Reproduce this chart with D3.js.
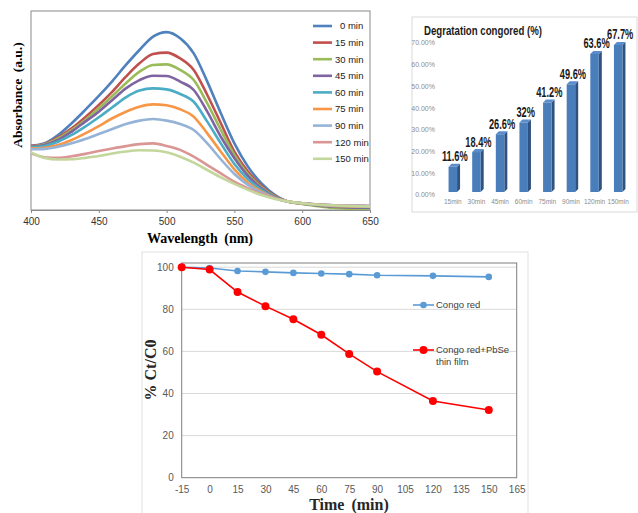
<!DOCTYPE html>
<html>
<head>
<meta charset="utf-8">
<script src="https://cdn.jsdelivr.net/npm/d3@7"></script>
<style>
  body { margin: 0; background: #fff; }
  svg { display: block; }
  .serif { font-family: "Liberation Serif", "Times New Roman", serif; font-weight: bold; }
  .sans { font-family: "Liberation Sans", Arial, sans-serif; }
  .narrow { font-family: "Liberation Sans Narrow", "Arial Narrow", "Liberation Sans", sans-serif; font-weight: bold; }
</style>
</head>
<body>
<div id="chart"></div>
<script>
// ---- data: UV-vis spectra (absorbance, a.u.) ----
const wavelengths = [400, 410, 420, 430, 440, 450, 460, 470, 480, 490, 500, 510, 520,
                     530, 540, 550, 560, 570, 580, 590, 600, 610, 620, 630, 640, 650];
const abs0   = [.322, .335, .377, .436, .503, .573, .648, .729, .804, .871, .894, .863, .787, .645, .486, .335, .218, .134, .075, .042, .034, .028, .025, .022, .021, .020];
const abs15  = [.322, .332, .365, .410, .466, .528, .595, .670, .737, .784, .791, .762, .704, .578, .436, .293, .193, .121, .070, .042, .034, .028, .022, .018, .015, .013];
const abs30  = [.318, .330, .360, .402, .452, .511, .573, .637, .695, .729, .732, .704, .653, .536, .402, .276, .181, .114, .067, .042, .030, .020, .012, .008, .005, .004];
const abs45  = [.318, .327, .352, .394, .444, .494, .553, .611, .653, .675, .673, .645, .603, .494, .368, .260, .171, .109, .064, .042, .032, .024, .018, .014, .012, .011];
const abs60  = [.315, .322, .343, .377, .419, .466, .516, .566, .600, .611, .606, .583, .544, .444, .335, .231, .154, .101, .062, .042, .033, .026, .021, .018, .016, .015];
const abs75  = [.310, .313, .327, .352, .385, .422, .461, .494, .519, .531, .526, .506, .469, .385, .293, .204, .137, .092, .059, .042, .033, .027, .022, .019, .017, .016];
const abs90  = [.305, .307, .318, .335, .357, .382, .407, .432, .449, .457, .449, .432, .402, .335, .255, .181, .126, .087, .059, .042, .034, .028, .024, .021, .020, .019];
const abs120 = [.285, .265, .262, .270, .282, .296, .309, .321, .331, .335, .322, .302, .268, .226, .184, .142, .109, .080, .059, .042, .034, .029, .025, .022, .021, .020];
const abs150 = [.290, .262, .254, .255, .262, .271, .284, .294, .300, .299, .290, .268, .238, .201, .164, .131, .101, .075, .055, .042, .034, .028, .024, .021, .019, .018];
const spectraNames  = ["0 min", "15 min", "30 min", "45 min", "60 min", "75 min", "90 min", "120 min", "150 min"];
const spectraValues = [abs0, abs15, abs30, abs45, abs60, abs75, abs90, abs120, abs150];
const spectraColors = ["#4f81bd", "#c0504d", "#9bbb59", "#8064a2", "#4bacc6", "#f79646", "#95b3d7", "#d99694", "#c3d69b"];
const wavelengthTicks = [400, 450, 500, 550, 600, 650];

// ---- data: degradation bars ----
const barLabels = ["15min", "30min", "45min", "60min", "75min", "90min", "120min", "150min"];
const barValues = [11.6, 18.4, 26.6, 32, 41.2, 49.6, 63.6, 67.7];
const barTexts  = ["11.6%", "18.4%", "26.6%", "32%", "41.2%", "49.6%", "63.6%", "67.7%"];
const barTicks  = [0, 10, 20, 30, 40, 50, 60, 70];

// ---- data: Ct/C0 vs time ----
const times        = [-15, 0, 15, 30, 45, 60, 75, 90, 120, 150];
const congoRed     = [100, 99.6, 98.2, 97.8, 97.3, 97.0, 96.7, 96.2, 95.9, 95.4];
const congoRedPbSe = [100, 98.9, 88.2, 81.5, 75.3, 67.9, 58.8, 50.4, 36.4, 32.2];
const timeTicks    = [-15, 0, 15, 30, 45, 60, 75, 90, 105, 120, 135, 150, 165];
const ratioTicks   = [0, 20, 40, 60, 80, 100];

// squeeze bold text horizontally, the original uses a narrow face
function condense(sel, k) {
    sel.each(function () {
        const w = this.getComputedTextLength();
        d3.select(this).attr("textLength", w * k).attr("lengthAdjust", "spacingAndGlyphs");
    });
}

const svg = d3.select("#chart").append("svg")
    .attr("width", 638)
    .attr("height", 513);

svg.append("rect").attr("width", 638).attr("height", 513).attr("fill", "#fff");

// =============== panel 1: absorbance spectra ===============
const p1 = { left: 31, right: 370, top: 11, bottom: 210 };
const x1 = d3.scaleLinear().domain([400, 650]).range([p1.left, p1.right]);
const y1 = d3.scaleLinear().domain([0, 1]).range([p1.bottom, p1.top]);

const g1 = svg.append("g");

g1.append("rect")
    .attr("x", p1.left).attr("y", p1.top)
    .attr("width", p1.right - p1.left).attr("height", p1.bottom - p1.top)
    .attr("fill", "none").attr("stroke", "#8a8a8a").attr("stroke-width", 1);

const line1 = d3.line()
    .x((d, i) => x1(wavelengths[i]))
    .y(d => y1(d))
    .curve(d3.curveMonotoneX);

g1.selectAll("path.spec")
    .data(spectraValues)
    .enter().append("path")
    .attr("class", "spec")
    .attr("d", line1)
    .attr("fill", "none")
    .attr("stroke", (d, i) => spectraColors[i])
    .attr("stroke-width", 2.6);

const xAxis1 = g1.append("g")
    .attr("transform", `translate(0, ${p1.bottom})`)
    .call(d3.axisBottom(x1).tickValues(wavelengthTicks).tickSize(3).tickSizeOuter(0));
xAxis1.select(".domain").attr("stroke", "#8a8a8a");
xAxis1.selectAll(".tick line").attr("stroke", "#8a8a8a");
xAxis1.selectAll(".tick text")
    .attr("class", "sans").attr("font-size", 10).attr("fill", "#333").attr("dy", "0.9em");

// legend
const leg1 = g1.selectAll("g.leg")
    .data(spectraNames)
    .enter().append("g")
    .attr("transform", (d, i) => `translate(313, ${26 + i * 16.6})`);
leg1.append("line")
    .attr("x1", 0).attr("x2", 19)
    .attr("stroke", (d, i) => spectraColors[i])
    .attr("stroke-width", 2.6);
leg1.append("text")
    .attr("class", "sans")
    .attr("x", (d, i) => i === 0 ? 27 : 22)
    .attr("dy", "0.35em")
    .attr("font-size", 9.5)
    .attr("fill", "#222")
    .text(d => d);

g1.append("text")
    .attr("class", "serif")
    .attr("x", 200).attr("y", 243)
    .attr("text-anchor", "middle")
    .attr("font-size", 14)
    .attr("word-spacing", 3)
    .text("Wavelength (nm)");

g1.append("text")
    .attr("class", "serif")
    .attr("transform", "translate(22, 95) rotate(-90)")
    .attr("text-anchor", "middle")
    .attr("font-size", 13.5)
    .attr("word-spacing", 3)
    .text("Absorbance (a.u.)");

// =============== panel 2: 3D-ish bar chart ===============
const p2 = { left: 441, right: 630, top: 43, bottom: 195 };
const x2 = d3.scalePoint().domain(barLabels).range([p2.left, p2.right]).padding(0.5);
const y2 = d3.scaleLinear().domain([0, 70]).range([p2.bottom, p2.top]);
const fw = 8.5, depth = 3;

const g2 = svg.append("g");
g2.append("rect")
    .attr("x", 412).attr("y", 17).attr("width", 225).attr("height", 195)
    .attr("fill", "#fff").attr("stroke", "#d9d9d9");

g2.append("text")
    .attr("class", "narrow")
    .attr("x", 424).attr("y", 35)
    .attr("font-size", 13)
    .attr("textLength", 118)
    .attr("lengthAdjust", "spacingAndGlyphs")
    .attr("fill", "#1a1a1a")
    .text("Degratation congored (%)");

g2.selectAll("text.ytick")
    .data(barTicks)
    .enter().append("text")
    .attr("class", "sans ytick")
    .attr("x", 435).attr("y", d => y2(d))
    .attr("dy", "0.35em")
    .attr("text-anchor", "end")
    .attr("font-size", 7)
    .attr("fill", "#8c8c8c")
    .text(d => d.toFixed(2) + "%");

const bars = g2.selectAll("g.bar")
    .data(barValues)
    .enter().append("g")
    .attr("class", "bar");

const bx = (i) => x2(barLabels[i]);
const bTop = (d) => y2(d) - depth;
const bBot = () => y2(0) - depth;

bars.append("path") // side face
    .attr("d", (d, i) => {
        const r = bx(i) + fw / 2;
        return `M${r},${bTop(d)}L${r + depth},${bTop(d) - depth}L${r + depth},${bBot() - depth}L${r},${bBot()}Z`;
    })
    .attr("fill", "#2f527e");
bars.append("path") // top face
    .attr("d", (d, i) => {
        const l = bx(i) - fw / 2, r = bx(i) + fw / 2, t = bTop(d);
        return `M${l},${t}L${l + depth},${t - depth}L${r + depth},${t - depth}L${r},${t}Z`;
    })
    .attr("fill", "#5b8ccb");
bars.append("rect") // front face
    .attr("x", (d, i) => bx(i) - fw / 2)
    .attr("y", d => bTop(d))
    .attr("width", fw)
    .attr("height", d => bBot() - bTop(d))
    .attr("fill", "#4a7ebb");

bars.append("text")
    .attr("class", "narrow")
    .attr("x", (d, i) => bx(i) + 2)
    .attr("y", d => bTop(d) - 5.5)
    .attr("text-anchor", "middle")
    .attr("font-size", 14)
    .attr("fill", "#1a1a1a")
    .text((d, i) => barTexts[i])
    .call(condense, 0.66);

g2.selectAll("text.xtick")
    .data(barLabels)
    .enter().append("text")
    .attr("class", "sans xtick")
    .attr("x", d => x2(d)).attr("y", 202)
    .attr("dy", "0.35em")
    .attr("text-anchor", "middle")
    .attr("font-size", 6.5)
    .attr("fill", "#8c8c8c")
    .text(d => d);

// =============== panel 3: Ct/C0 vs time ===============
const p3 = { left: 181.7, right: 516.7, top: 263, bottom: 477.7 };
const x3 = d3.scaleLinear().domain([-15, 165]).range([p3.left, p3.right]);
const y3 = d3.scaleLinear().domain([0, 100]).range([p3.bottom, 267.2]);

const g3 = svg.append("g");

g3.append("rect")
    .attr("x", 142).attr("y", 252).attr("width", 386).attr("height", 270)
    .attr("fill", "none").attr("stroke", "#e0e0e0");

g3.selectAll("line.grid")
    .data(ratioTicks.slice(1))
    .enter().append("line")
    .attr("x1", p3.left).attr("x2", p3.right)
    .attr("y1", d => y3(d)).attr("y2", d => y3(d))
    .attr("stroke", "#d9d9d9");

g3.append("rect")
    .attr("x", p3.left).attr("y", p3.top)
    .attr("width", p3.right - p3.left).attr("height", p3.bottom - p3.top)
    .attr("fill", "none").attr("stroke", "#7f7f7f");

const yAxis3 = g3.append("g")
    .attr("transform", `translate(${p3.left}, 0)`)
    .call(d3.axisLeft(y3).tickValues(ratioTicks).tickSize(0).tickPadding(8));
yAxis3.select(".domain").remove();
yAxis3.selectAll(".tick text").attr("class", "sans").attr("font-size", 10).attr("fill", "#595959");

const xAxis3 = g3.append("g")
    .attr("transform", `translate(0, ${p3.bottom})`)
    .call(d3.axisBottom(x3).tickValues(timeTicks).tickFormat(d => String(d)).tickSize(0).tickPadding(8));
xAxis3.select(".domain").remove();
xAxis3.selectAll(".tick text").attr("class", "sans").attr("font-size", 10).attr("fill", "#595959");

const line3 = d3.line()
    .x((d, i) => x3(times[i]))
    .y(d => y3(d));

const series3 = [
    { values: congoRed, color: "#5b9bd5", r: 3.3 },
    { values: congoRedPbSe, color: "#ff0000", r: 4 }
];

series3.forEach(s => {
    g3.append("path")
        .attr("d", line3(s.values))
        .attr("fill", "none")
        .attr("stroke", s.color)
        .attr("stroke-width", 1.6);
    g3.selectAll(null)
        .data(s.values)
        .enter().append("circle")
        .attr("cx", (d, i) => x3(times[i]))
        .attr("cy", d => y3(d))
        .attr("r", s.r)
        .attr("fill", s.color);
});

// legend
const leg3 = [
    { y: 305, color: "#5b9bd5", r: 3.3, lines: ["Congo red"] },
    { y: 350, color: "#ff0000", r: 4, lines: ["Congo red+PbSe", "thin film"] }
];
leg3.forEach(l => {
    g3.append("line")
        .attr("x1", 413).attr("x2", 434)
        .attr("y1", l.y).attr("y2", l.y)
        .attr("stroke", l.color).attr("stroke-width", 1.6);
    g3.append("circle")
        .attr("cx", 423.5).attr("cy", l.y).attr("r", l.r).attr("fill", l.color);
    l.lines.forEach((t, k) => {
        g3.append("text")
            .attr("class", "sans")
            .attr("x", 436).attr("y", l.y + k * 11.5)
            .attr("dy", "0.35em")
            .attr("font-size", 9.5)
            .attr("fill", "#404040")
            .text(t);
    });
});

g3.append("text")
    .attr("class", "serif")
    .attr("x", 349).attr("y", 510)
    .attr("text-anchor", "middle")
    .attr("font-size", 16)
    .attr("word-spacing", 3)
    .attr("fill", "#262626")
    .text("Time (min)");

g3.append("text")
    .attr("class", "serif")
    .attr("transform", "translate(156, 370) rotate(-90)")
    .attr("text-anchor", "middle")
    .attr("font-size", 16)
    .attr("fill", "#262626")
    .text("% Ct/C0");
</script>
</body>
</html>
